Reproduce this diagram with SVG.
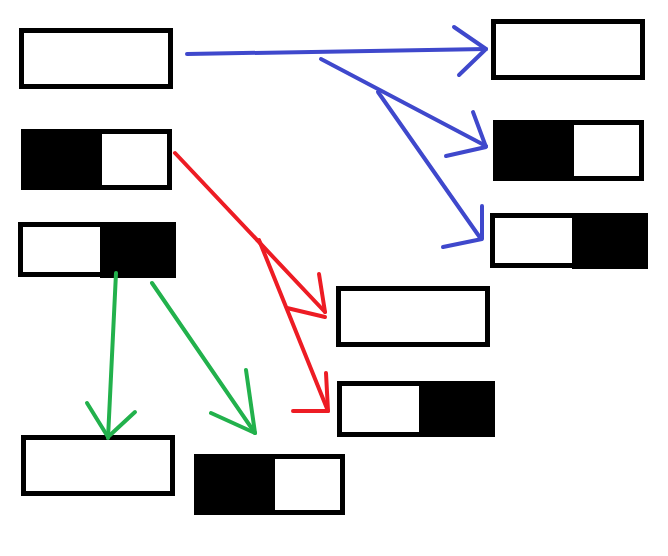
<svg xmlns="http://www.w3.org/2000/svg" width="668" height="556" viewBox="0 0 668 556">
<style>
.box{fill:#fff;stroke:#000;stroke-width:5}
.blk{fill:#000}
.c{fill:none;stroke-width:4;stroke-linecap:round;stroke-linejoin:round}
.blue{stroke:#3f48cc}
.red{stroke:#ed1c24}
.green{stroke:#22b14c}
</style>
<rect width="668" height="556" fill="#fff"/>
<g id="nodeA"><rect class="box" x="21.5" y="30.5" width="149" height="56"/></g>
<g id="nodeB"><rect class="box" x="23.5" y="131.5" width="146" height="56"/><rect class="blk" x="21" y="129" width="81" height="61"/></g>
<g id="nodeC"><rect class="box" x="20.5" y="224.5" width="153" height="50"/><rect class="blk" x="100" y="222" width="76" height="56"/></g>
<g id="nodeD"><rect class="box" x="493.5" y="21.5" width="149" height="56"/></g>
<g id="nodeE"><rect class="box" x="495.5" y="122.5" width="146" height="56"/><rect class="blk" x="493" y="120" width="81" height="61"/></g>
<g id="nodeF"><rect class="box" x="492.5" y="215.5" width="153" height="50"/><rect class="blk" x="572" y="213" width="76" height="56"/></g>
<g id="nodeG"><rect class="box" x="23.5" y="437.5" width="149" height="56"/></g>
<g id="nodeH"><rect class="box" x="196.5" y="456.5" width="146" height="56"/><rect class="blk" x="194" y="454" width="81" height="61"/></g>
<g id="nodeI"><rect class="box" x="338.5" y="288.5" width="149" height="56"/></g>
<g id="nodeJ"><rect class="box" x="339.5" y="383.5" width="153" height="51"/><rect class="blk" x="419" y="381" width="76" height="56"/></g>
<g id="connectors">
<polyline class="c blue" points="187,54 486,49"/>
<polyline class="c blue" points="454,27 486,49 459,75"/>
<polyline class="c blue" points="321,59 486,146"/>
<polyline class="c blue" points="473,112 486,147 446,156"/>
<polyline class="c blue" points="378,92 481,239"/>
<polyline class="c blue" points="482,206 482,239 443,247"/>
<polyline class="c red" points="175,153 325,312"/>
<polyline class="c red" points="319,274 325,312"/>
<polyline class="c red" points="287,308 325,317"/>
<polyline class="c red" points="259,240 328,411"/>
<polyline class="c red" points="326,373 328,411 293,411"/>
<polyline class="c green" points="116,273 108,438"/>
<polyline class="c green" points="87,403 108,437 135,412"/>
<polyline class="c green" points="152,283 255,433"/>
<polyline class="c green" points="246,370 255,433 211,413"/>
</g>
</svg>
